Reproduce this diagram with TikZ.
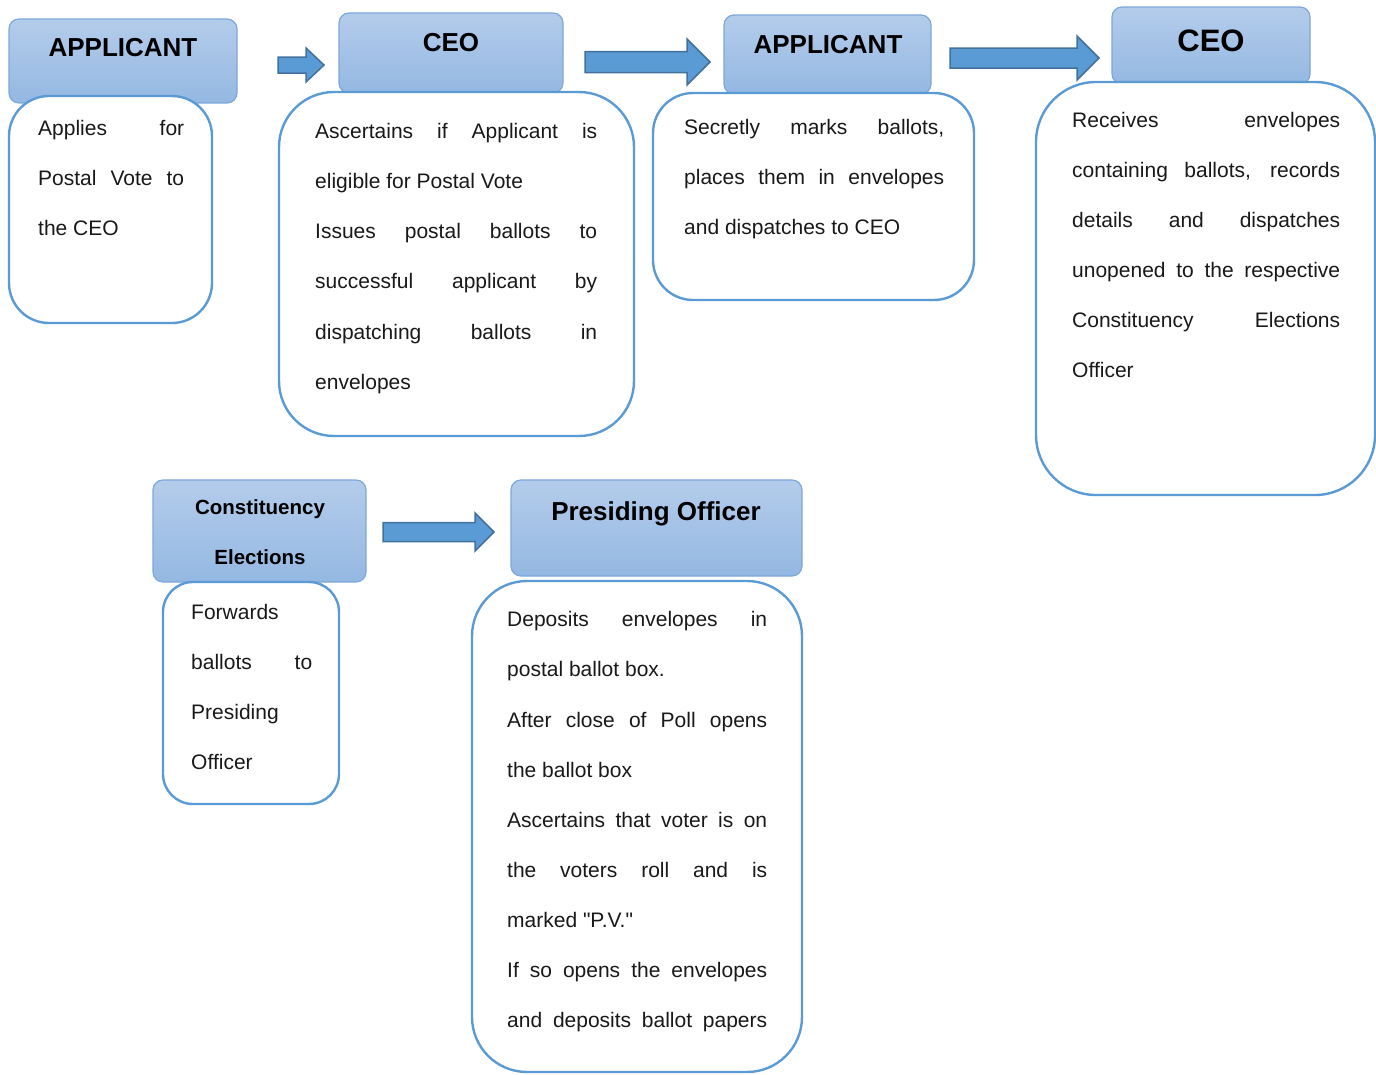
\documentclass[tikz,border=0pt]{standalone}
\usepackage{fontspec}
\setmainfont{Liberation Sans}
\definecolor{hdrtop}{RGB}{180,204,235}
\definecolor{hdrbot}{RGB}{148,184,226}
\definecolor{hdrline}{RGB}{125,168,218}
\definecolor{bodyline}{RGB}{91,155,213}
\definecolor{arrfill}{RGB}{91,155,213}
\definecolor{arrline}{RGB}{65,113,156}
\tikzset{
  hdr/.style={draw=hdrline, line width=1.2pt, top color=hdrtop, bottom color=hdrbot, rounded corners=10pt, inner sep=0pt},
  bodybox/.style={draw=bodyline, line width=2.4pt, fill=white, inner sep=0pt},
  txt/.style={inner sep=0pt, font=\fontsize{21}{25}\selectfont, text=black!90},
  htxt/.style={inner sep=0pt, font=\fontsize{26}{30}\selectfont\bfseries, anchor=base},
  barrow/.style={fill=arrfill, draw=arrline, line width=1.5pt, line join=miter},
}
% rectangle node from corners: name, x1, y1, x2, y2, style
\newcommand\boxat[6]{\node[#6, minimum width={#4-#2}, minimum height={#5-#3}] (#1) at ({(#2+#4)/2},{(#3+#5)/2}) {};}
% justified line: name, x, baseline y, width, text
\newcommand\jline[5]{\node[txt, anchor=base west] (#1) at (#2,#3) {\makebox[#4pt][s]{#5}};}
\newcommand\lline[4]{\node[txt, anchor=base west] (#1) at (#2,#3) {#4};}
% block arrow: x-left, y-center, shaft half, head start x, head half, tip x
\newcommand\blockarr[6]{\draw[barrow] (#1,#2-#3) -- (#4,#2-#3) -- (#4,#2-#5) -- (#6,#2) -- (#4,#2+#5) -- (#4,#2+#3) -- (#1,#2+#3) -- cycle;}
\begin{document}
\begin{tikzpicture}[x=1pt,y=-1pt]
\useasboundingbox (0,0) rectangle (1376,1074);

% ---------- Box 1 ----------
\boxat{h1}{9}{19}{237}{103}{hdr}
\node[htxt] (h1t) at (123,56) {APPLICANT};
\boxat{b1}{9}{96}{212}{323}{bodybox, rounded corners=40pt}
\jline{b1a}{38}{135}{146}{Applies for}
\jline{b1b}{38}{185}{146}{Postal Vote to}
\lline{b1c}{38}{235}{the CEO}

% ---------- Box 2 ----------
\boxat{h2}{339}{13}{563}{93}{hdr}
\node[htxt] (h2t) at (451,51) {CEO};
\boxat{b2}{279}{92}{634}{436}{bodybox, rounded corners=55pt}
\jline{b2a}{315}{138}{282}{Ascertains if Applicant is}
\lline{b2b}{315}{188}{eligible for Postal Vote}
\jline{b2c}{315}{238}{282}{Issues postal ballots to}
\jline{b2d}{315}{288}{282}{successful applicant by}
\jline{b2e}{315}{339}{282}{dispatching ballots in}
\lline{b2f}{315}{389}{envelopes}

% ---------- Box 3 ----------
\boxat{h3}{724}{15}{931}{94}{hdr}
\node[htxt] (h3t) at (828,53) {APPLICANT};
\boxat{b3}{653}{93}{974}{300}{bodybox, rounded corners=40pt}
\jline{b3a}{684}{134}{260}{Secretly marks ballots,}
\jline{b3b}{684}{184}{260}{places them in envelopes}
\lline{b3c}{684}{234}{and dispatches to CEO}

% ---------- Box 4 ----------
\boxat{h4}{1112}{7}{1310}{84}{hdr}
\node[htxt, font=\fontsize{31}{36}\selectfont\bfseries] (h4t) at (1211,51) {CEO};
\boxat{b4}{1036}{82}{1375}{495}{bodybox, rounded corners=60pt}
\jline{b4a}{1072}{127}{268}{Receives envelopes}
\jline{b4b}{1072}{177}{268}{containing ballots, records}
\jline{b4c}{1072}{227}{268}{details and dispatches}
\jline{b4d}{1072}{277}{268}{unopened to the respective}
\jline{b4e}{1072}{327}{268}{Constituency Elections}
\lline{b4f}{1072}{377}{Officer}

% ---------- Box 5 ----------
\boxat{h5}{153}{480}{366}{582}{hdr}
\node[htxt, font=\fontsize{20.5}{24}\selectfont\bfseries] (h5t) at (260,514) {Constituency};
\node[htxt, font=\fontsize{20.5}{24}\selectfont\bfseries] (h5u) at (260,564) {Elections};
\boxat{b5}{163}{582}{339}{804}{bodybox, rounded corners=30pt}
\lline{b5a}{191}{619}{Forwards}
\jline{b5b}{191}{669}{121}{ballots to}
\lline{b5c}{191}{719}{Presiding}
\lline{b5d}{191}{769}{Officer}

% ---------- Box 6 ----------
\boxat{h6}{511}{480}{802}{576}{hdr}
\node[htxt] (h6t) at (656,520) {Presiding Officer};
\boxat{b6}{472}{581}{802}{1072}{bodybox, rounded corners=55pt}
\jline{b6a}{507}{626}{260}{Deposits envelopes in}
\lline{b6b}{507}{676}{postal ballot box.}
\jline{b6c}{507}{727}{260}{After close of Poll opens}
\lline{b6d}{507}{777}{the ballot box}
\jline{b6e}{507}{827}{260}{Ascertains that voter is on}
\jline{b6f}{507}{877}{260}{the voters roll and is}
\lline{b6g}{507}{927}{marked \textquotedbl P.V.\textquotedbl}
\jline{b6h}{507}{977}{260}{If so opens the envelopes}
\jline{b6i}{507}{1027}{260}{and deposits ballot papers}

% ---------- Arrows ----------
\blockarr{278}{65}{8}{306}{17}{324}
\blockarr{585}{62}{10.5}{687}{23}{710}
\blockarr{950}{58}{10}{1077}{22}{1099}
\blockarr{383}{532}{9.5}{475}{19}{494}
\end{tikzpicture}
\end{document}
